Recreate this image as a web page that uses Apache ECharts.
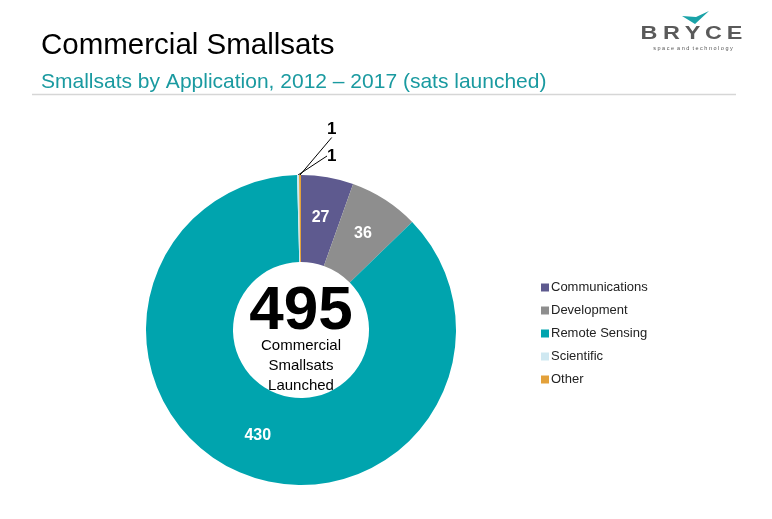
<!DOCTYPE html>
<html lang="en">
<head>
    <meta charset="UTF-8">
    <title>Commercial Smallsats</title>
    <style>
        html, body { margin: 0; padding: 0; background: #fff; }
        #chartContainer { width: 772px; height: 519px; }
    </style>
    <script src="https://cdn.jsdelivr.net/npm/echarts@6/dist/echarts.min.js"></script>
</head>
<body>
    <div id="chartContainer"></div>
    <script>
        const categories = ['Communications', 'Development', 'Remote Sensing', 'Scientific', 'Other'];
        const satsLaunched = [27, 36, 430, 1, 1];
        const sliceColors = ['#5e5a8f', '#8e8e8e', '#00a4ae', '#cfe8f1', '#e3a13a'];
        const totalLaunched = 495;

        var chartDom = document.getElementById('chartContainer');
        var myChart = echarts.init(chartDom);

        const pieCenter = [301, 330];
        // small slices get their labels pulled up to the right, like the original
        const smallLabelPos = { 3: [327, 156], 4: [327, 129] };

        const pieData = categories.map((name, i) => {
            const small = satsLaunched[i] < 5;
            return {
                name: name,
                value: satsLaunched[i],
                itemStyle: { color: sliceColors[i] },
                label: small ? {
                    position: 'outside', color: '#000', fontSize: 17, fontWeight: 'bold'
                } : {
                    position: 'inside', color: '#fff', fontSize: 16, fontWeight: 'bold'
                },
                labelLine: { show: small, lineStyle: { color: '#000', width: 1 } }
            };
        });

        // BRYCE logo letters, spaced out
        const logoLetters = ['B', 'R', 'Y', 'C', 'E'];
        const logoX = [649, 671.5, 692.5, 713.5, 734.5];

        const option = {
            animation: false,
            textStyle: { fontFamily: 'Liberation Sans, Arial, sans-serif' },
            title: [{
                text: 'Commercial Smallsats',
                left: 36, top: 26,
                textStyle: { fontSize: 29.5, fontWeight: 'normal', color: '#000' }
            }, {
                text: 'Smallsats by Application, 2012 \u2013 2017 (sats launched)',
                left: 36, top: 67,
                textStyle: { fontSize: 21, fontWeight: 'normal', color: '#1a9aa0' }
            }, {
                text: String(totalLaunched),
                left: 296, top: 276, textAlign: 'center',
                textStyle: { fontSize: 62, fontWeight: 'bold', color: '#000' }
            }, {
                text: 'Commercial\nSmallsats\nLaunched',
                left: 296, top: 331, textAlign: 'center',
                textStyle: { fontSize: 15, fontWeight: 'normal', color: '#000', lineHeight: 20 }
            }],
            legend: {
                orient: 'vertical',
                left: 536, top: 276,
                itemWidth: 8, itemHeight: 8,
                itemGap: 10,
                icon: 'rect',
                data: categories,
                textStyle: { fontSize: 13, color: '#222', padding: [0, 0, 0, -3] }
            },
            graphic: [{
                type: 'line',
                shape: { x1: 32, y1: 94.5, x2: 736, y2: 94.5 },
                style: { stroke: '#d6d6d6', lineWidth: 1.5 }
            }, {
                type: 'polygon',
                shape: { points: [[682, 16], [696, 17], [709, 11], [695, 24]] },
                style: { fill: '#1aa3a8' }
            }].concat(logoLetters.map((ch, i) => ({
                type: 'text',
                x: logoX[i], y: 34,
                scaleX: 1.3,
                style: {
                    text: ch, fill: '#5a5a5a', align: 'center', verticalAlign: 'middle',
                    font: 'bold 18px Liberation Sans'
                }
            }))).concat([{
                type: 'text',
                x: 693, y: 48,
                style: {
                    text: 's p a c e  a n d  t e c h n o l o g y', fill: '#555',
                    align: 'center', verticalAlign: 'middle', font: '5.5px Liberation Sans'
                }
            }]),
            series: [{
                type: 'pie',
                center: pieCenter,
                radius: [68, 155],
                startAngle: 90,
                clockwise: true,
                avoidLabelOverlap: false,
                label: { show: true, formatter: '{c}' },
                labelLine: { length: 15, length2: 0 },
                labelLayout: function (params) {
                    const pos = smallLabelPos[params.dataIndex];
                    if (pos) {
                        return { x: pos[0], y: pos[1], align: 'left', verticalAlign: 'middle' };
                    }
                    return {};
                },
                data: pieData
            }]
        };

        myChart.setOption(option);
    </script>
</body>
</html>
